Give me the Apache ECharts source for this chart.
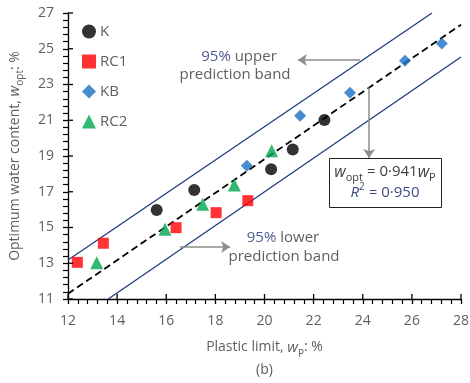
<!DOCTYPE html>
<html>
<head>
<meta charset="utf-8">
<script src="https://cdn.jsdelivr.net/npm/echarts@6/dist/echarts.min.js"></script>
<style>
  html, body { margin: 0; padding: 0; background: #fff; }
  #chart { width: 470px; height: 383px; }
</style>
</head>
<body>
<div id="chart"></div>
<script>
// Plastic limit (x) vs optimum water content (y), four soil groups
const kData   = [[15.61, 15.98], [17.14, 17.10], [20.27, 18.26], [21.15, 19.37], [22.44, 21.01]];
const rc1Data = [[12.38, 13.05], [13.44, 14.12], [16.40, 14.99], [18.03, 15.83], [19.32, 16.50]];
const kbData  = [[19.28, 18.46], [21.45, 21.25], [23.48, 22.54], [25.72, 24.33], [27.22, 25.30]];
const rc2Data = [[13.17, 13.03], [15.95, 14.90], [17.48, 16.30], [18.77, 17.38], [20.29, 19.30]];

// Regression through the origin: w_opt = 0.941 w_P, R^2 = 0.950
const fitSlope = 0.941;
const fitRange = [12, 28];
const upperBand = [[12, 13.18], [26.82, 27.0]];
const lowerBand = [[13.64, 11.0], [28, 24.54]];

const xTicks = { min: 12, max: 28, interval: 2, minorSplit: 5 };
const yTicks = { min: 11, max: 27, interval: 2, minorSplit: 5 };

const fitLine = fitRange.map(x => [x, +(fitSlope * x).toFixed(3)]);

const FONT = '"Open Sans", "Noto Sans", sans-serif';
const GREY = '#5f5f5f';
const BAND = '#1f3b80';

const GRID = { left: 68, right: 9, top: 13, bottom: 84 };
const W = 470, H = 383;

const chart = echarts.init(document.getElementById('chart'), null, { renderer: 'canvas', width: W, height: H });

// Inner half of the major ticks, so the major ticks cross the axis line
function innerMajorTicks() {
  const marks = [];
  const left = GRID.left, right = W - GRID.right, top = GRID.top, bottom = H - GRID.bottom;
  const sx = v => left + (v - xTicks.min) / (xTicks.max - xTicks.min) * (right - left);
  const sy = v => bottom - (v - yTicks.min) / (yTicks.max - yTicks.min) * (bottom - top);
  const line = (x1, y1, x2, y2) => ({
    type: 'line', silent: true, z: 100,
    shape: { x1: x1, y1: y1, x2: x2, y2: y2 },
    style: { stroke: '#000000', lineWidth: 1.3 }
  });
  for (let v = xTicks.min; v <= xTicks.max; v += xTicks.interval) {
    const px = sx(v);
    marks.push(line(px, bottom, px, bottom - 5));
  }
  for (let v = yTicks.min; v <= yTicks.max; v += yTicks.interval) {
    const py = sy(v);
    marks.push(line(left, py, left + 5, py));
  }
  return marks;
}

const annotations = [
  { type: 'text', x: 239, y: 57, z: 10,
    style: { text: '{p|95%} upper', font: '15px ' + FONT, fill: GREY, align: 'center', verticalAlign: 'middle',
             rich: { p: { fill: '#4b5b8f', fontSize: 15, fontFamily: FONT } } } },
  { type: 'text', x: 235, y: 75, z: 10,
    style: { text: 'prediction band', font: '15px ' + FONT, fill: GREY, align: 'center', verticalAlign: 'middle' } },
  { type: 'text', x: 283, y: 238, z: 10,
    style: { text: '{p|95%} lower', font: '15px ' + FONT, fill: GREY, align: 'center', verticalAlign: 'middle',
             rich: { p: { fill: '#4b5b8f', fontSize: 15, fontFamily: FONT } } } },
  { type: 'text', x: 284, y: 257, z: 10,
    style: { text: 'prediction band', font: '15px ' + FONT, fill: GREY, align: 'center', verticalAlign: 'middle' } },
  { type: 'rect', left: 329, top: 158, z: 10,
    shape: { width: 112, height: 49 },
    style: { fill: '#fff', stroke: '#222', lineWidth: 1 } },
  { type: 'text', x: 385, y: 172, z: 11,
    style: {
      text: '{i|w}{sub|opt} = 0·941{i|w}{sub|P}',
      font: '15px ' + FONT, fill: '#404040', align: 'center', verticalAlign: 'middle',
      rich: {
        i: { fontFamily: FONT, fontSize: 16, fontStyle: 'italic', fill: '#404040', lineHeight: 22 },
        sub: { fontFamily: FONT, fontSize: 11, fill: '#404040', lineHeight: 14, verticalAlign: 'bottom' }
      }
    } },
  { type: 'text', x: 385, y: 193, z: 11,
    style: {
      text: '{r|R}{sup|2}{n| = 0·950}',
      font: '15px ' + FONT, fill: '#3d4a86', align: 'center', verticalAlign: 'middle',
      rich: {
        r: { fontFamily: FONT, fontSize: 15, fontStyle: 'italic', fill: '#3d4a86', lineHeight: 22 },
        sup: { fontFamily: FONT, fontSize: 10, fill: '#3d4a86', lineHeight: 12, verticalAlign: 'top' },
        n: { fontFamily: FONT, fontSize: 15, fill: '#3d4a86', lineHeight: 22 }
      }
    } }
];

const option = {
  animation: false,
  textStyle: { fontFamily: FONT },
  grid: Object.assign({ containLabel: false, outerBoundsMode: 'none' }, GRID),
  legend: {
    orient: 'vertical',
    left: 77, top: 19,
    itemWidth: 14, itemHeight: 14, itemGap: 15,
    textStyle: { fontFamily: FONT, fontSize: 15, color: GREY, padding: [0, 0, 0, -1] },
    data: [
      { name: 'K', icon: 'circle' },
      { name: 'RC1', icon: 'rect' },
      { name: 'KB', icon: 'diamond' },
      { name: 'RC2', icon: 'triangle' }
    ]
  },
  xAxis: {
    type: 'value', min: xTicks.min, max: xTicks.max, interval: xTicks.interval,
    axisLine: { show: true, onZero: false, lineStyle: { color: '#000', width: 1.3 } },
    splitLine: { show: false },
    axisTick: { show: true, inside: false, length: 5, lineStyle: { color: '#000', width: 1.3 } },
    minorTick: { show: true, splitNumber: xTicks.minorSplit, length: 5, lineStyle: { color: '#000', width: 1.2 } },
    axisLabel: { fontFamily: FONT, fontSize: 14, color: GREY, margin: 15 },
    name: 'Plastic limit, {i|w}{sub|P}: %\n{b|(b)}',
    nameLocation: 'middle',
    nameGap: 37,
    nameTextStyle: {
      fontFamily: FONT, fontSize: 14, color: GREY, lineHeight: 23, verticalAlign: 'top',
      rich: {
        i: { fontFamily: FONT, fontSize: 15, fontStyle: 'italic', color: GREY, lineHeight: 23 },
        sub: { fontFamily: FONT, fontSize: 10, color: GREY, lineHeight: 14, verticalAlign: 'bottom' },
        b: { fontFamily: FONT, fontSize: 14, color: GREY, lineHeight: 23 }
      }
    }
  },
  yAxis: {
    type: 'value', min: yTicks.min, max: yTicks.max, interval: yTicks.interval,
    axisLine: { show: true, onZero: false, lineStyle: { color: '#000', width: 1.3 } },
    splitLine: { show: false },
    axisTick: { show: true, inside: false, length: 5, lineStyle: { color: '#000', width: 1.3 } },
    minorTick: { show: true, splitNumber: yTicks.minorSplit, length: 5, lineStyle: { color: '#000', width: 1.2 } },
    axisLabel: { fontFamily: FONT, fontSize: 14, color: GREY, margin: 14 },
    name: 'Optimum water content, {i|w}{sub|opt}: %',
    nameLocation: 'middle',
    nameGap: 43,
    nameRotate: 90,
    nameTextStyle: {
      fontFamily: FONT, fontSize: 14, color: GREY, lineHeight: 20,
      rich: {
        i: { fontFamily: FONT, fontSize: 15, fontStyle: 'italic', color: GREY, lineHeight: 20 },
        sub: { fontFamily: FONT, fontSize: 10, color: GREY, lineHeight: 12, verticalAlign: 'bottom' }
      }
    }
  },
  series: [
    {
      name: 'upper band', type: 'line', data: upperBand, showSymbol: false, silent: true,
      lineStyle: { color: BAND, width: 1.3 }, z: 2,
      markLine: {
        silent: true, symbol: ['none', 'arrow'], symbolSize: 9,
        label: { show: false },
        lineStyle: { color: '#8c8c8c', width: 1.5, type: 'solid' },
        data: [
          [{ coord: [23.89, 24.37] }, { coord: [21.36, 24.37] }],
          [{ coord: [24.26, 22.83] }, { coord: [24.26, 18.89] }],
          [{ coord: [16.56, 13.91] }, { coord: [18.60, 13.91] }]
        ]
      }
    },
    {
      name: 'lower band', type: 'line', data: lowerBand, showSymbol: false, silent: true,
      lineStyle: { color: BAND, width: 1.3 }, z: 2
    },
    {
      name: 'fit', type: 'line', data: fitLine, showSymbol: false, silent: true,
      lineStyle: { color: '#000', width: 1.8, type: [7, 4] }, z: 3
    },
    { name: 'K', type: 'scatter', data: kData, symbol: 'circle', symbolSize: 12,
      itemStyle: { color: '#000000' }, z: 5 },
    { name: 'RC1', type: 'scatter', data: rc1Data, symbol: 'rect', symbolSize: 11,
      itemStyle: { color: '#ff0000' }, z: 5 },
    { name: 'KB', type: 'scatter', data: kbData, symbol: 'diamond', symbolSize: 12,
      itemStyle: { color: '#1a6fc4' }, z: 5 },
    { name: 'RC2', type: 'scatter', data: rc2Data, symbol: 'triangle', symbolSize: 13,
      itemStyle: { color: '#00a650' }, z: 5 }
  ],
  graphic: { elements: annotations.concat(innerMajorTicks()) }
};

chart.setOption(option);
</script>
</body>
</html>
